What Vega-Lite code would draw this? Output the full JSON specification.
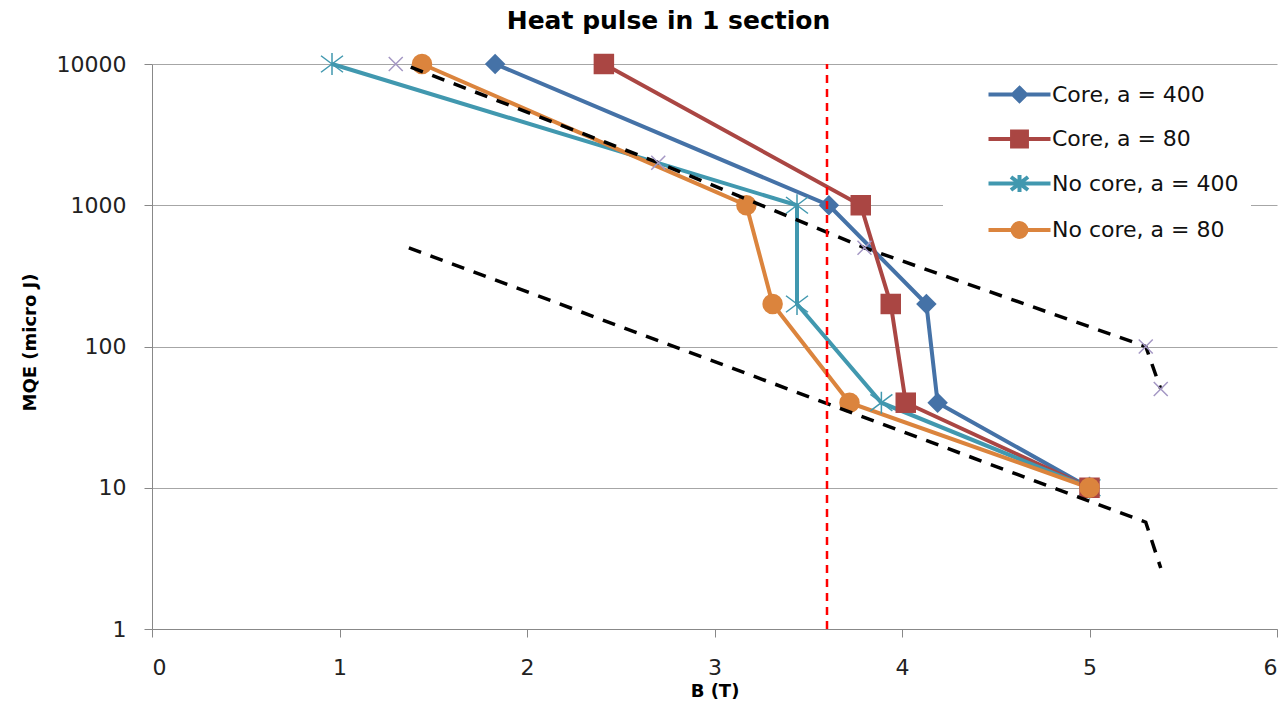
{
  "$schema": "https://vega.github.io/schema/vega-lite/v6.json",
  "width": 1125,
  "height": 565,
  "autosize": {"type": "none"},
  "padding": {"left": 152, "top": 64, "right": 8, "bottom": 75},
  "background": "white",
  "title": {"text": "Heat pulse in 1 section", "font": "DejaVu Sans", "fontSize": 25, "fontWeight": "bold", "color": "black", "anchor": "middle", "frame": "group", "dx": -46, "offset": 16},
  "config": {"view": {"stroke": null}, "font": "DejaVu Sans"},
  "datasets": {
    "series": [
      {"series": "Core, a = 400", "B": 1.83, "MQE": 10000},
      {"series": "Core, a = 400", "B": 3.61, "MQE": 1000},
      {"series": "Core, a = 400", "B": 4.13, "MQE": 200},
      {"series": "Core, a = 400", "B": 4.19, "MQE": 40},
      {"series": "Core, a = 400", "B": 5.0, "MQE": 10},
      {"series": "Core, a = 80", "B": 2.41, "MQE": 10000},
      {"series": "Core, a = 80", "B": 3.78, "MQE": 1000},
      {"series": "Core, a = 80", "B": 3.94, "MQE": 200},
      {"series": "Core, a = 80", "B": 4.02, "MQE": 40},
      {"series": "Core, a = 80", "B": 5.0, "MQE": 10},
      {"series": "No core, a = 400", "B": 0.96, "MQE": 10000},
      {"series": "No core, a = 400", "B": 3.44, "MQE": 1000},
      {"series": "No core, a = 400", "B": 3.44, "MQE": 200},
      {"series": "No core, a = 400", "B": 3.89, "MQE": 40},
      {"series": "No core, a = 400", "B": 5.0, "MQE": 10},
      {"series": "No core, a = 80", "B": 1.44, "MQE": 10000},
      {"series": "No core, a = 80", "B": 3.17, "MQE": 1000},
      {"series": "No core, a = 80", "B": 3.31, "MQE": 200},
      {"series": "No core, a = 80", "B": 3.72, "MQE": 40},
      {"series": "No core, a = 80", "B": 5.0, "MQE": 10}
    ],
    "bounds": [
      {"bound": "upper", "B": 1.38, "MQE": 9500},
      {"bound": "upper", "B": 2.7, "MQE": 2000},
      {"bound": "upper", "B": 3.8, "MQE": 500},
      {"bound": "upper", "B": 5.3, "MQE": 100},
      {"bound": "upper", "B": 5.38, "MQE": 50},
      {"bound": "lower", "B": 1.37, "MQE": 500},
      {"bound": "lower", "B": 5.3, "MQE": 5.7},
      {"bound": "lower", "B": 5.38, "MQE": 2.7}
    ],
    "xmarks": [
      {"B": 1.3, "MQE": 10000},
      {"B": 2.7, "MQE": 2000},
      {"B": 3.8, "MQE": 500},
      {"B": 5.3, "MQE": 100},
      {"B": 5.38, "MQE": 50}
    ],
    "vline": [
      {"B": 3.6, "MQE": 1},
      {"B": 3.6, "MQE": 10000}
    ]
  },
  "layer": [
    {
      "data": {"name": "series"},
      "mark": {"type": "line", "strokeWidth": 4},
      "encoding": {
        "x": {"field": "B", "type": "quantitative", "scale": {"domain": [0, 6], "nice": false, "zero": false},
          "axis": {"values": [0, 1, 2, 3, 4, 5, 6], "format": "d", "grid": false, "title": "B (T)", "titleFont": "DejaVu Sans", "titleFontSize": 18, "titleFontWeight": "bold", "titleColor": "black", "titleBaseline": "middle", "titleY": 62, "labelFont": "DejaVu Sans", "labelFontSize": 22, "labelColor": "#222", "labelPadding": 20, "tickSize": 8, "tickColor": "#888", "domainColor": "#888"}},
        "y": {"field": "MQE", "type": "quantitative", "scale": {"type": "log", "domain": [1, 10000], "nice": false},
          "axis": {"values": [1, 10, 100, 1000, 10000], "format": "d", "grid": true, "gridColor": "#A6A6A6", "title": "MQE (micro J)", "titleFont": "DejaVu Sans", "titleFontSize": 18, "titleFontWeight": "bold", "titleColor": "black", "titleX": -122, "titleY": 278, "titleBaseline": "middle", "labelFont": "DejaVu Sans", "labelFontSize": 22, "labelColor": "#222", "labelPadding": 18, "tickSize": 8, "tickColor": "#888", "domainColor": "#888"}},
        "color": {"field": "series", "type": "nominal",
          "scale": {"domain": ["Core, a = 400", "Core, a = 80", "No core, a = 400", "No core, a = 80"], "range": ["#4572A7", "#AA4643", "#4198AF", "#DB843D"]},
          "legend": {"orient": "none", "legendX": 791, "legendY": 1, "title": null, "fillColor": "white", "padding": 12, "symbolSize": 961, "symbolOffset": 47, "rowPadding": 11.5, "labelOffset": 15, "labelLimit": 400, "labelFont": "DejaVu Sans", "labelFontSize": 22, "labelColor": "#111", "symbolStrokeWidth": 4,
            "encode": {"symbols": {"update": {
              "shape": {"signal": "datum.value === 'Core, a = 400' ? 'M-2,0H2M0,-0.42L0.42,0L0,0.42L-0.42,0Z' : datum.value === 'Core, a = 80' ? 'M-2,0H2M-0.48,-0.48H0.48V0.48H-0.48Z' : datum.value === 'No core, a = 400' ? 'M-2,0H2M0,-0.55V0.55M-0.55,-0.42L0.55,0.42M-0.55,0.42L0.55,-0.42' : 'M-2,0H2M0.45,0A0.45,0.45 0 1,1 -0.45,0A0.45,0.45 0 1,1 0.45,0Z'"},
              "fill": {"signal": "scale('color', datum.value)"},
              "stroke": {"signal": "scale('color', datum.value)"},
              "strokeWidth": {"value": 4},
              "opacity": {"value": 1},
              "fillOpacity": {"value": 1}
            }}}
          }},
        "order": {"field": "MQE", "sort": "descending"}
      }
    },
    {
      "data": {"name": "series"},
      "transform": [{"filter": "datum.series === 'No core, a = 400'"}],
      "mark": {"type": "point", "filled": false, "shape": "M0,-1V1M-1,-0.75L1,0.75M-1,0.75L1,-0.75", "size": 484, "strokeWidth": 1.5, "opacity": 1},
      "encoding": {
        "x": {"field": "B", "type": "quantitative"},
        "y": {"field": "MQE", "type": "quantitative"},
        "color": {"field": "series", "type": "nominal"}
      }
    },
    {
      "data": {"name": "series"},
      "transform": [{"filter": "datum.series !== 'No core, a = 400'"}],
      "mark": {"type": "point", "filled": true, "opacity": 1},
      "encoding": {
        "x": {"field": "B", "type": "quantitative"},
        "y": {"field": "MQE", "type": "quantitative"},
        "color": {"field": "series", "type": "nominal"},
        "shape": {"field": "series", "type": "nominal", "scale": {"domain": ["Core, a = 400", "Core, a = 80", "No core, a = 80"], "range": ["diamond", "square", "circle"]}, "legend": null},
        "size": {"field": "series", "type": "nominal", "scale": {"domain": ["Core, a = 400", "Core, a = 80", "No core, a = 80"], "range": [420, 420, 440]}, "legend": null}
      }
    },
    {
      "data": {"name": "bounds"},
      "mark": {"type": "line", "color": "black", "strokeWidth": 3.5, "strokeDash": [13, 10]},
      "encoding": {
        "x": {"field": "B", "type": "quantitative"},
        "y": {"field": "MQE", "type": "quantitative"},
        "detail": {"field": "bound", "type": "nominal"},
        "order": {"field": "MQE", "sort": "descending"}
      }
    },
    {
      "data": {"name": "xmarks"},
      "mark": {"type": "point", "filled": false, "shape": "M-1,-1L1,1M-1,1L1,-1", "size": 196, "strokeWidth": 1.5, "color": "#A497C4", "opacity": 1},
      "encoding": {
        "x": {"field": "B", "type": "quantitative"},
        "y": {"field": "MQE", "type": "quantitative"}
      }
    },
    {
      "data": {"name": "vline"},
      "mark": {"type": "line", "color": "#FF0000", "strokeWidth": 2.5, "strokeDash": [8, 6]},
      "encoding": {
        "x": {"field": "B", "type": "quantitative"},
        "y": {"field": "MQE", "type": "quantitative"}
      }
    }
  ]
}
